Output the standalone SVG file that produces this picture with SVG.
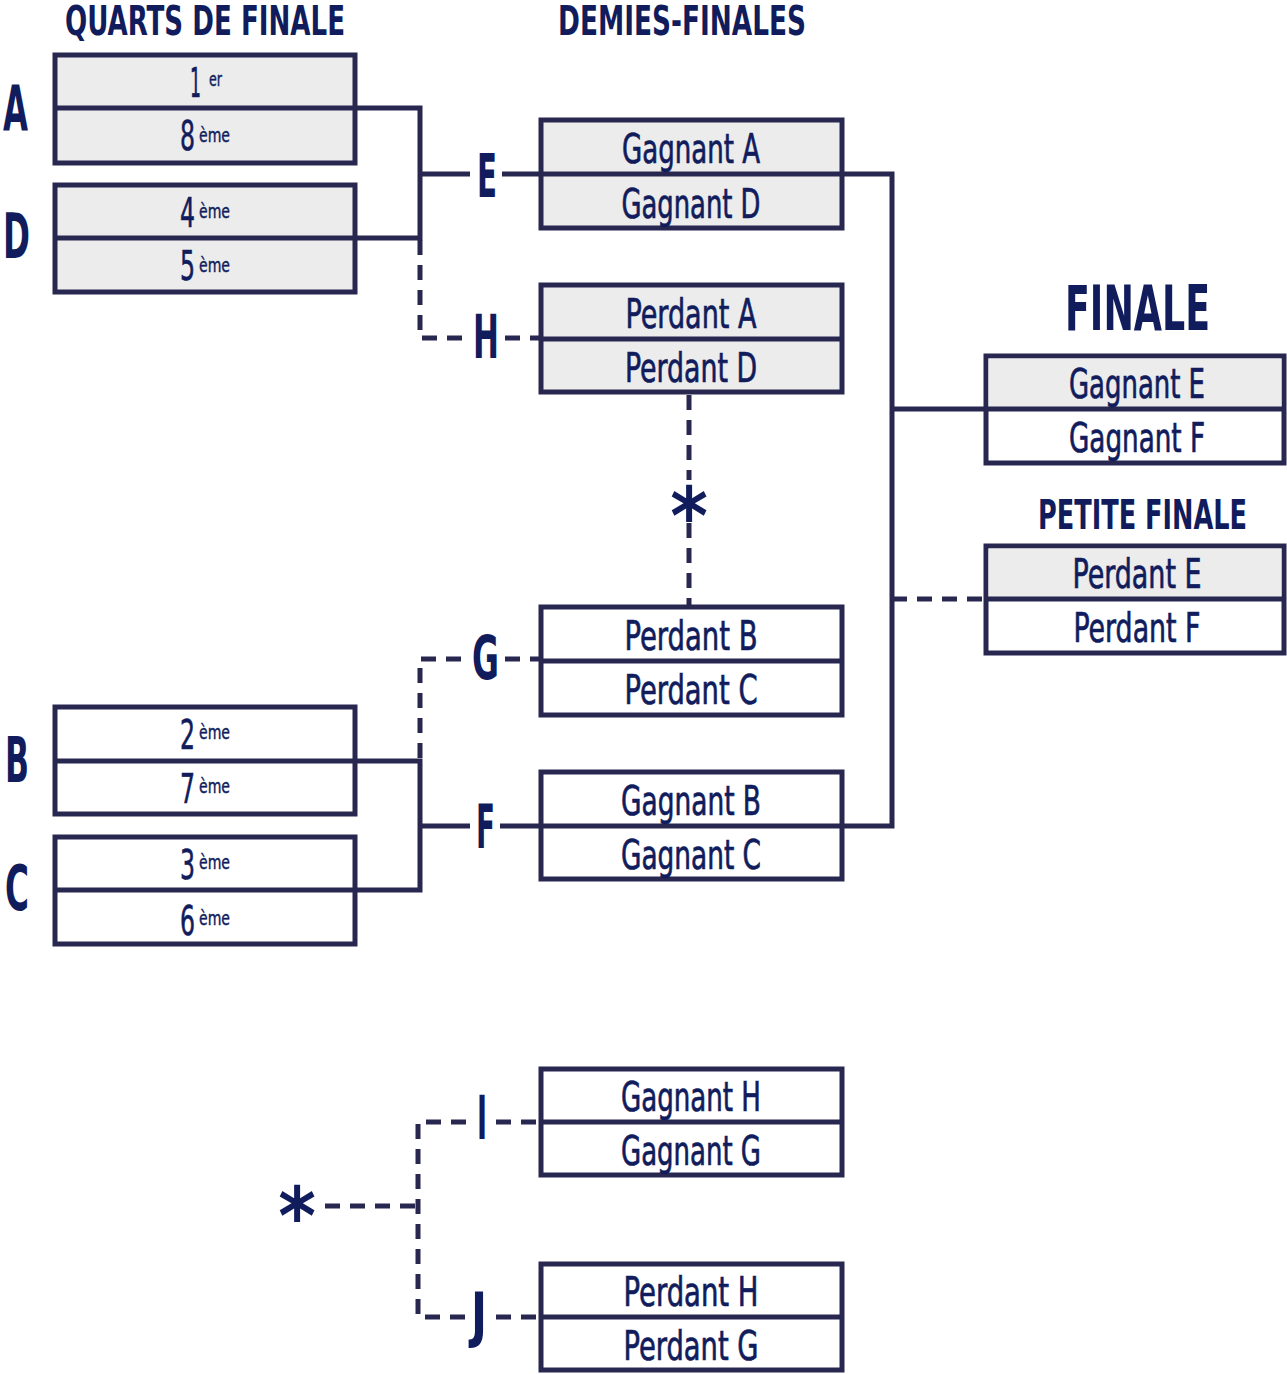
<svg xmlns="http://www.w3.org/2000/svg" width="1287" height="1374" viewBox="0 0 1287 1374">
<style>
.box{stroke:#28274f;stroke-width:5;}
.g{fill:#ececec}
.w{fill:#ffffff}
.ln{stroke:#28274f;stroke-width:5;fill:none}
.ds{stroke:#28274f;stroke-width:5;fill:none;stroke-dasharray:15 10}
text{font-family:"Liberation Sans Narrow","DejaVu Sans Condensed","Liberation Sans",sans-serif;fill:#111c5c;font-stretch:condensed}
.c{font-size:40px;text-anchor:middle;stroke:#111c5c;stroke-width:0.7px}
.n{font-size:40px;text-anchor:end;stroke:#111c5c;stroke-width:0.6px}
.s{font-size:20px;stroke:#111c5c;stroke-width:0.4px}
.b{font-weight:bold}
</style>
<rect width="1287" height="1374" fill="#ffffff"/>

<g id="headings">
<text class="b" x="205" y="35" font-size="40" text-anchor="middle" textLength="280" lengthAdjust="spacingAndGlyphs">QUARTS DE FINALE</text>
<text class="b" x="682" y="35" font-size="40" text-anchor="middle" textLength="248" lengthAdjust="spacingAndGlyphs">DEMIES-FINALES</text>
<text class="b" transform="translate(1137.5,330) scale(1,1.26)" x="0" y="0" font-size="50" text-anchor="middle" textLength="145" lengthAdjust="spacingAndGlyphs">FINALE</text>
<text class="b" transform="translate(1142.5,529) scale(1,1.25)" x="0" y="0" font-size="32" text-anchor="middle" textLength="209" lengthAdjust="spacingAndGlyphs">PETITE FINALE</text>
</g>

<g id="group-labels">
<text class="b" x="3" y="130" font-size="63" textLength="25" lengthAdjust="spacingAndGlyphs">A</text>
<text class="b" x="3" y="258" font-size="63" textLength="27" lengthAdjust="spacingAndGlyphs">D</text>
<text class="b" x="5" y="782" font-size="63" textLength="24" lengthAdjust="spacingAndGlyphs">B</text>
<text class="b" x="5" y="910" font-size="63" textLength="24" lengthAdjust="spacingAndGlyphs">C</text>
</g>

<g id="connectors">
<polyline class="ln" points="355,108 420,108 420,238 355,238"/>
<line class="ln" x1="420" y1="174" x2="470" y2="174"/>
<line class="ln" x1="502" y1="174" x2="541" y2="174"/>
<polyline class="ds" points="420,240 420,338 468,338"/>
<line class="ds" x1="505" y1="338" x2="541" y2="338"/>
<polyline class="ln" points="355,761 420,761 420,890 355,890"/>
<line class="ln" x1="420" y1="826" x2="470" y2="826"/>
<line class="ln" x1="500" y1="826" x2="541" y2="826"/>
<polyline class="ds" points="420,758 420,659 464,659"/>
<line class="ds" x1="505" y1="659" x2="541" y2="659"/>
<polyline class="ln" points="842,174 892,174 892,826 842,826"/>
<line class="ln" x1="892" y1="409" x2="986" y2="409"/>
<line class="ds" x1="892" y1="599" x2="986" y2="599"/>
<line class="ds" x1="689" y1="395" x2="689" y2="480"/>
<line class="ds" x1="689" y1="523" x2="689" y2="605"/>
<line class="ds" x1="325" y1="1206" x2="418" y2="1206"/>
<polyline class="ds" points="466,1122 418,1122 418,1317 466,1317"/>
<line class="ds" x1="496" y1="1122" x2="541" y2="1122"/>
<line class="ds" x1="496" y1="1317" x2="541" y2="1317"/>
</g>

<g id="match-labels">
<text class="b" x="477" y="197" font-size="60" textLength="20" lengthAdjust="spacingAndGlyphs">E</text>
<text class="b" x="473" y="358" font-size="60" textLength="26" lengthAdjust="spacingAndGlyphs">H</text>
<text class="b" x="472" y="679" font-size="60" textLength="27" lengthAdjust="spacingAndGlyphs">G</text>
<text class="b" x="476" y="848" font-size="60" textLength="19" lengthAdjust="spacingAndGlyphs">F</text>
<text class="b" x="477" y="1139" font-size="60" textLength="10" lengthAdjust="spacingAndGlyphs">I</text>
<text class="b" x="471" y="1335" font-size="60" textLength="16" lengthAdjust="spacingAndGlyphs">J</text>
<text class="b" x="689" y="544" font-size="80" text-anchor="middle">*</text>
<text class="b" x="297" y="1244" font-size="80" text-anchor="middle">*</text>
</g>

<g id="node-A">
<rect class="box g" x="55" y="55" width="300" height="108"/>
<line class="ln" x1="55" y1="108" x2="355" y2="108"/>
<text class="n" x="201" y="97" textLength="11" lengthAdjust="spacingAndGlyphs">1</text><text class="s" x="209" y="86" textLength="13" lengthAdjust="spacingAndGlyphs">er</text>
<text class="n" x="195" y="150" textLength="15" lengthAdjust="spacingAndGlyphs">8</text><text class="s" x="199" y="142" textLength="31" lengthAdjust="spacingAndGlyphs">ème</text>
</g>
<g id="node-D">
<rect class="box g" x="55" y="185" width="300" height="107"/>
<line class="ln" x1="55" y1="238" x2="355" y2="238"/>
<text class="n" x="195" y="227" textLength="15" lengthAdjust="spacingAndGlyphs">4</text><text class="s" x="199" y="218" textLength="31" lengthAdjust="spacingAndGlyphs">ème</text>
<text class="n" x="195" y="280" textLength="15" lengthAdjust="spacingAndGlyphs">5</text><text class="s" x="199" y="272" textLength="31" lengthAdjust="spacingAndGlyphs">ème</text>
</g>
<g id="node-B">
<rect class="box w" x="55" y="707" width="300" height="107"/>
<line class="ln" x1="55" y1="761" x2="355" y2="761"/>
<text class="n" x="195" y="749" textLength="15" lengthAdjust="spacingAndGlyphs">2</text><text class="s" x="199" y="739" textLength="31" lengthAdjust="spacingAndGlyphs">ème</text>
<text class="n" x="195" y="803" textLength="15" lengthAdjust="spacingAndGlyphs">7</text><text class="s" x="199" y="793" textLength="31" lengthAdjust="spacingAndGlyphs">ème</text>
</g>
<g id="node-C">
<rect class="box w" x="55" y="837" width="300" height="107"/>
<line class="ln" x1="55" y1="890" x2="355" y2="890"/>
<text class="n" x="195" y="879" textLength="15" lengthAdjust="spacingAndGlyphs">3</text><text class="s" x="199" y="869" textLength="31" lengthAdjust="spacingAndGlyphs">ème</text>
<text class="n" x="195" y="935" textLength="15" lengthAdjust="spacingAndGlyphs">6</text><text class="s" x="199" y="925" textLength="31" lengthAdjust="spacingAndGlyphs">ème</text>
</g>

<g id="node-E">
<rect class="box g" x="541" y="120" width="301" height="108"/>
<line class="ln" x1="541" y1="174" x2="842" y2="174"/>
<text class="c" x="691" y="163" textLength="138" lengthAdjust="spacingAndGlyphs">Gagnant A</text>
<text class="c" x="691" y="218" textLength="139" lengthAdjust="spacingAndGlyphs">Gagnant D</text>
</g>
<g id="node-H">
<rect class="box g" x="541" y="285" width="301" height="107"/>
<line class="ln" x1="541" y1="339" x2="842" y2="339"/>
<text class="c" x="691" y="328" textLength="131" lengthAdjust="spacingAndGlyphs">Perdant A</text>
<text class="c" x="691" y="382" textLength="132" lengthAdjust="spacingAndGlyphs">Perdant D</text>
</g>
<g id="node-G">
<rect class="box w" x="541" y="607" width="301" height="108"/>
<line class="ln" x1="541" y1="661" x2="842" y2="661"/>
<text class="c" x="691" y="650" textLength="133" lengthAdjust="spacingAndGlyphs">Perdant B</text>
<text class="c" x="691" y="704" textLength="133" lengthAdjust="spacingAndGlyphs">Perdant C</text>
</g>
<g id="node-F">
<rect class="box w" x="541" y="772" width="301" height="107"/>
<line class="ln" x1="541" y1="826" x2="842" y2="826"/>
<text class="c" x="691" y="815" textLength="140" lengthAdjust="spacingAndGlyphs">Gagnant B</text>
<text class="c" x="691" y="869" textLength="140" lengthAdjust="spacingAndGlyphs">Gagnant C</text>
</g>

<g id="node-finale">
<rect class="box w" x="986" y="356" width="298" height="107"/>
<rect class="g" x="988.5" y="358.5" width="293" height="50"/>
<line class="ln" x1="986" y1="409" x2="1284" y2="409"/>
<text class="c" x="1137" y="398" textLength="136" lengthAdjust="spacingAndGlyphs">Gagnant E</text>
<text class="c" x="1137" y="452" textLength="136" lengthAdjust="spacingAndGlyphs">Gagnant F</text>
</g>
<g id="node-petite-finale">
<rect class="box w" x="986" y="546" width="298" height="107"/>
<rect class="g" x="988.5" y="548.5" width="293" height="50"/>
<line class="ln" x1="986" y1="599" x2="1284" y2="599"/>
<text class="c" x="1137" y="588" textLength="129" lengthAdjust="spacingAndGlyphs">Perdant E</text>
<text class="c" x="1137" y="642" textLength="127" lengthAdjust="spacingAndGlyphs">Perdant F</text>
</g>

<g id="node-I">
<rect class="box w" x="541" y="1069" width="301" height="106"/>
<line class="ln" x1="541" y1="1122" x2="842" y2="1122"/>
<text class="c" x="691" y="1111" textLength="140" lengthAdjust="spacingAndGlyphs">Gagnant H</text>
<text class="c" x="691" y="1165" textLength="140" lengthAdjust="spacingAndGlyphs">Gagnant G</text>
</g>
<g id="node-J">
<rect class="box w" x="541" y="1264" width="301" height="106"/>
<line class="ln" x1="541" y1="1317" x2="842" y2="1317"/>
<text class="c" x="691" y="1306" textLength="135" lengthAdjust="spacingAndGlyphs">Perdant H</text>
<text class="c" x="691" y="1360" textLength="135" lengthAdjust="spacingAndGlyphs">Perdant G</text>
</g>
</svg>
